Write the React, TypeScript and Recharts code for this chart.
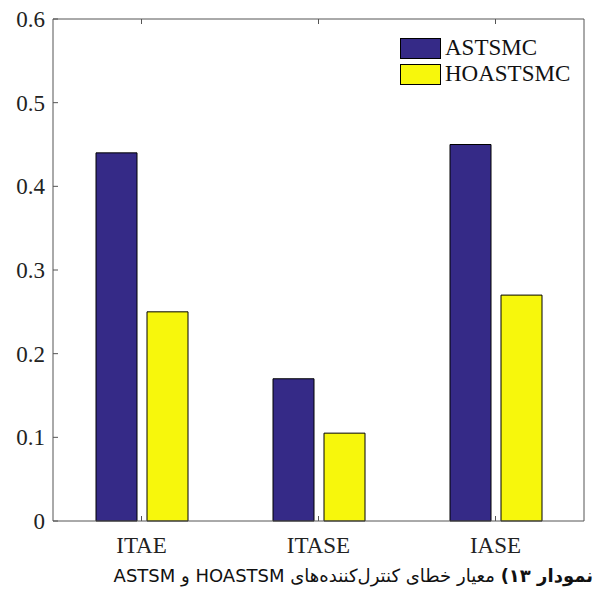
import { BarChart, Bar, XAxis, YAxis } from "recharts";

const categories = ["ITAE", "ITASE", "IASE"];
const astsmc = [0.44, 0.17, 0.45];
const hoastsmc = [0.25, 0.105, 0.27];
const yTicks = [0, 0.1, 0.2, 0.3, 0.4, 0.5, 0.6];

const seriesNames = ["ASTSMC", "HOASTSMC"];
const seriesColors = ["#352a87", "#f7f70c"];

const data = categories.map((name, i) => ({
  name,
  ASTSMC: astsmc[i],
  HOASTSMC: hoastsmc[i],
}));

const axisColor = "#555";
const serif = "'Liberation Serif', 'Times New Roman', serif";

function BottomTick({ x, y, payload }: any) {
  return (
    <g>
      <line x1={x} x2={x} y1={y} y2={y - 5} stroke={axisColor} />
      <text x={x} y={y + 32} textAnchor="middle" fontFamily={serif} fontSize={23} fill="#222">
        {payload.value}
      </text>
    </g>
  );
}

function TopTick({ x, y }: any) {
  return <line x1={x} x2={x} y1={y} y2={y + 5} stroke={axisColor} />;
}

function LeftTick({ x, y, payload }: any) {
  return (
    <g>
      <line x1={x} x2={x + 5} y1={y} y2={y} stroke={axisColor} />
      <text x={x - 8} y={y + 8} textAnchor="end" fontFamily={serif} fontSize={23} fill="#222">
        {payload.value}
      </text>
    </g>
  );
}

function RightTick({ x, y }: any) {
  return <line x1={x} x2={x - 5} y1={y} y2={y} stroke={axisColor} />;
}

function LegendBox() {
  return (
    <div style={{ position: "absolute", left: 400, top: 35, fontFamily: serif, fontSize: 23, color: "#111" }}>
      {seriesNames.map((n, i) => (
        <div key={n} style={{ display: "flex", alignItems: "center", height: 26 }}>
          <div
            style={{
              width: 39,
              height: 19,
              background: seriesColors[i],
              border: "1px solid #000",
              marginRight: 4,
            }}
          />
          <span>{n}</span>
        </div>
      ))}
    </div>
  );
}

export default function App() {
  return (
    <div style={{ position: "absolute", left: 0, top: 0, width: 595, height: 591, background: "#fff" }}>
      <BarChart
        width={595}
        height={591}
        data={data}
        margin={{ top: 0, right: 0, bottom: 30, left: 0 }}
        barCategoryGap="24%"
        barGap={10}
      >
        <XAxis
          dataKey="name"
          height={40}
          axisLine={{ stroke: axisColor }}
          tickLine={false}
          tickSize={0}
          tickMargin={0}
          tick={<BottomTick />}
          interval={0}
        />
        <XAxis
          xAxisId="top"
          dataKey="name"
          orientation="top"
          height={19}
          axisLine={{ stroke: axisColor }}
          tickLine={false}
          tickSize={0}
          tickMargin={0}
          tick={<TopTick />}
          interval={0}
        />
        <YAxis
          domain={[0, 0.6]}
          ticks={yTicks}
          width={53}
          axisLine={{ stroke: axisColor }}
          tickLine={false}
          tickSize={0}
          tickMargin={0}
          tick={<LeftTick />}
          interval={0}
        />
        <YAxis
          yAxisId="right"
          orientation="right"
          domain={[0, 0.6]}
          ticks={yTicks}
          width={11}
          axisLine={{ stroke: axisColor }}
          tickLine={false}
          tickSize={0}
          tickMargin={0}
          tick={<RightTick />}
          interval={0}
        />
        {seriesNames.map((n, i) => (
          <Bar
            key={n}
            dataKey={n}
            fill={seriesColors[i]}
            stroke="#000"
            strokeWidth={1}
            barSize={41}
            isAnimationActive={false}
          />
        ))}
      </BarChart>
      <LegendBox />
      <div
        dir="rtl"
        style={{
          position: "absolute",
          right: 2,
          top: 565,
          fontFamily: "'DejaVu Sans', sans-serif",
          fontSize: 18,
          color: "#111",
          whiteSpace: "nowrap",
        }}
      >
        <b>نمودار ۱۳)</b> معیار خطای کنترل‌کننده‌های HOASTSM و ASTSM
      </div>
    </div>
  );
}
